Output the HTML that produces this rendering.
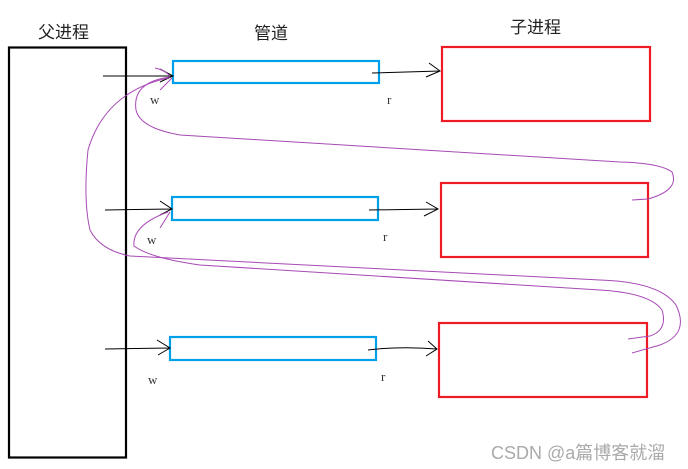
<!DOCTYPE html>
<html><head><meta charset="utf-8"><style>
html,body{margin:0;padding:0;background:#fff;width:688px;height:469px;overflow:hidden}
svg text{font-family:"Liberation Serif","Noto Serif CJK SC",serif}
</style></head><body>
<svg width="688" height="469" viewBox="0 0 688 469" xmlns="http://www.w3.org/2000/svg">
<rect x="9" y="47.5" width="117" height="410" fill="none" stroke="#000" stroke-width="2.2"/>
<g fill="none" stroke="#00a0e8" stroke-width="2.2">
<rect x="173" y="61" width="206" height="22"/>
<rect x="172" y="197" width="206" height="23"/>
<rect x="170" y="337" width="206" height="23"/>
</g>
<g fill="none" stroke="#ed1c24" stroke-width="2.2">
<rect x="442" y="47" width="208" height="74"/>
<rect x="441" y="183" width="207" height="74"/>
<rect x="439" y="323" width="208" height="74"/>
</g>
<g fill="none" stroke="#000" stroke-width="1">
<path d="M103 76 L173 76 M160 69 L173 76 L160 82"/>
<path d="M105 210 L172 209 M160 201 L172 209 L160 215"/>
<path d="M105 349 L170 348 M157 340 L170 348 L158 355"/>
<path d="M372 73 L440 71 M429 63 L440 71 L426 77"/>
<path d="M369 210 L438 209 M426 202 L438 209 L424 216"/>
<path d="M368 350 Q400 346 437 349 M428 341 L437 349 L426 356"/>
</g>
<g fill="none" stroke="#a74ab5" stroke-width="1">
<path d="M632 200 L648 199 Q680 190 672 172 Q660 163 620 162 L180 135 Q140 128 136 110 Q132 82 170 77"/>
<path d="M628 339 L650 336 Q668 330 662 310 Q650 293 600 290 L200 265 Q150 258 134 246 Q132 225 168 212"/>
<path d="M632 353 L660 345 Q690 334 676 305 Q660 282 600 280 L130 256 Q100 250 90 230 Q83 200 88 150 Q105 92 168 78"/>
<path d="M155 68 Q165 70 170 76 M160 90 L172 78"/>
<path d="M160 228 L170 212"/>
</g>
<g font-size="17" fill="#222">
<text x="38" y="38" style="font-family:'Noto Sans CJK SC',sans-serif">父进程</text>
<text x="254" y="39" style="font-family:'Noto Sans CJK SC',sans-serif">管道</text>
<text x="510" y="33" style="font-family:'Noto Sans CJK SC',sans-serif">子进程</text>
</g>
<g font-size="13" fill="#333">
<text x="150" y="104">w</text><text x="387" y="104">r</text>
<text x="147" y="244">w</text><text x="383" y="241">r</text>
<text x="148" y="384">w</text><text x="381" y="381">r</text>
</g>
<text x="491" y="459" font-size="18" fill="#aaa" style="font-family:'Liberation Sans','Noto Sans CJK SC',sans-serif">CSDN @a篇博客就溜</text>
</svg>
</body></html>
